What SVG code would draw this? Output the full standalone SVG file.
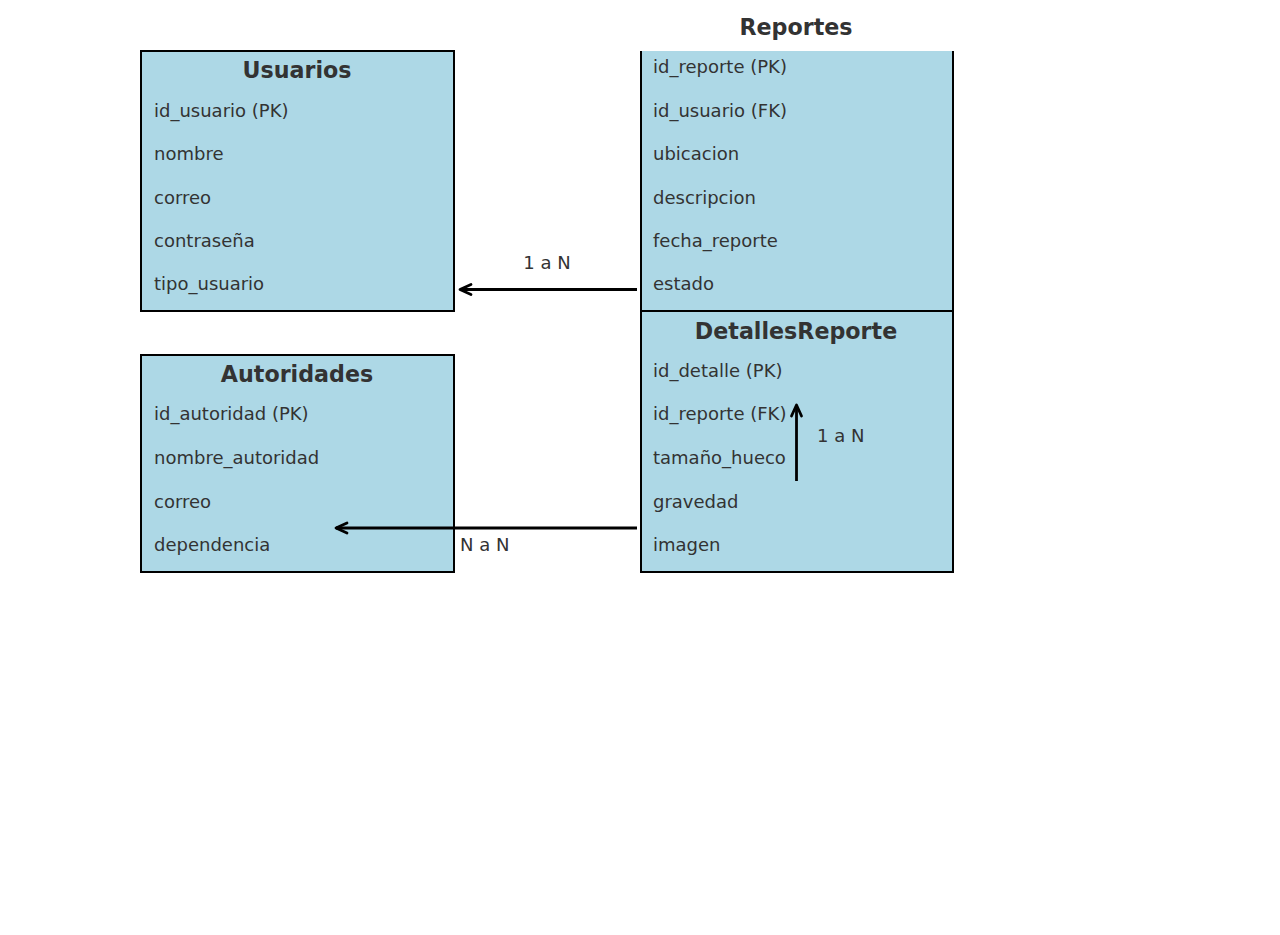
<svg xmlns="http://www.w3.org/2000/svg" width="1280" height="935" viewBox="0 0 1280 935">
<style>
.box{fill:#add8e6;stroke:#000;stroke-width:2}
.t{font-family:"DejaVu Sans",sans-serif;font-size:22.2px;font-weight:bold;fill:#333;text-anchor:middle}
.a{font-family:"DejaVu Sans",sans-serif;font-size:18px;fill:#333}
.c{stroke:#000;stroke-width:2.8;fill:none}
.h{stroke:#000;stroke-width:2.8;fill:none;stroke-linecap:round;stroke-linejoin:round}
</style>
<rect width="1280" height="935" fill="#fff"/>
<g id="Usuarios">
<rect class="box" x="141" y="51" width="313" height="260"/>
<text class="t" x="297" y="78">Usuarios</text>
<text class="a" x="154" y="117">id_usuario (PK)</text>
<text class="a" x="154" y="160">nombre</text>
<text class="a" x="154" y="203.5">correo</text>
<text class="a" x="154" y="247">contraseña</text>
<text class="a" x="154" y="290">tipo_usuario</text>
</g>
<g id="Reportes">
<rect x="641" y="51" width="312" height="260" fill="#add8e6"/>
<path d="M641 51V311H953V51" fill="none" stroke="#000" stroke-width="2"/>
<text class="t" x="796" y="34.5">Reportes</text>
<text class="a" x="653" y="73">id_reporte (PK)</text>
<text class="a" x="653" y="117">id_usuario (FK)</text>
<text class="a" x="653" y="160">ubicacion</text>
<text class="a" x="653" y="203.5">descripcion</text>
<text class="a" x="653" y="247">fecha_reporte</text>
<text class="a" x="653" y="290">estado</text>
</g>
<g id="DetallesReporte">
<rect class="box" x="641" y="311" width="312" height="261"/>
<text class="t" x="796" y="338.5">DetallesReporte</text>
<text class="a" x="653" y="376.5">id_detalle (PK)</text>
<text class="a" x="653" y="420">id_reporte (FK)</text>
<text class="a" x="653" y="463.5">tamaño_hueco</text>
<text class="a" x="653" y="508">gravedad</text>
<text class="a" x="653" y="551">imagen</text>
</g>
<g id="Autoridades">
<rect class="box" x="141" y="355" width="313" height="217"/>
<text class="t" x="297" y="381.5">Autoridades</text>
<text class="a" x="154" y="420">id_autoridad (PK)</text>
<text class="a" x="154" y="463.5">nombre_autoridad</text>
<text class="a" x="154" y="508">correo</text>
<text class="a" x="154" y="551">dependencia</text>
</g>
<g id="connectors">
<path class="c" d="M637 289.5H460"/>
<path class="h" d="M471 284.5L460 289.5L471 294.5"/>
<text class="a" x="547" y="269" text-anchor="middle">1 a N</text>
<path class="c" d="M637 528H336"/>
<path class="h" d="M347 523L336 528L347 533"/>
<text class="a" x="460" y="551">N a N</text>
<path class="c" d="M796.5 481V405"/>
<path class="h" d="M791.5 416L796.5 405L801.5 416"/>
<text class="a" x="817" y="442">1 a N</text>
</g>
</svg>
